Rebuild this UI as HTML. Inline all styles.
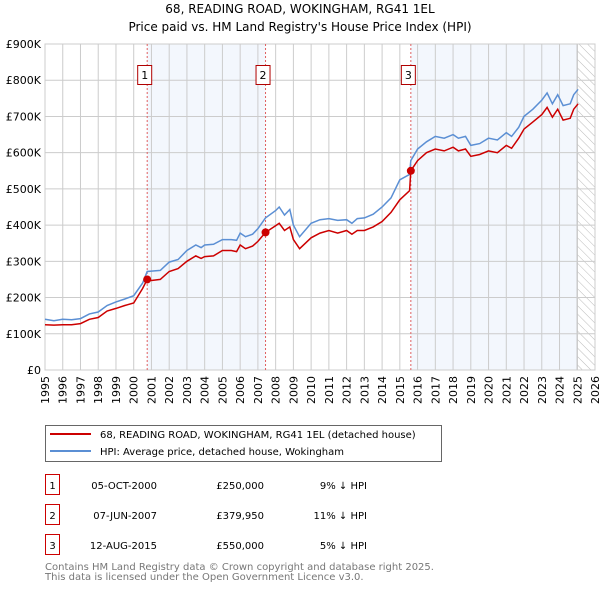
<!DOCTYPE html>
<html><head><meta charset="utf-8"><style>
body{margin:0;background:#fff;font-family:"DejaVu Sans","Liberation Sans",sans-serif;}
svg text{font-family:"DejaVu Sans","Liberation Sans",sans-serif;}
</style></head><body>
<svg id="c" width="600" height="590" xmlns="http://www.w3.org/2000/svg">
<defs><pattern id="hatch" width="6" height="6" patternUnits="userSpaceOnUse" patternTransform="rotate(-45)"><line x1="0" y1="0" x2="0" y2="6" stroke="#bbb" stroke-width="1"/></pattern></defs>
<text x="300" y="13" text-anchor="middle" font-size="12" fill="#000">68, READING ROAD, WOKINGHAM, RG41 1EL</text>
<text x="300" y="31" text-anchor="middle" font-size="12" fill="#000">Price paid vs. HM Land Registry's House Price Index (HPI)</text>
<g id="plot"></g>
<g>
<rect x="45.5" y="425.5" width="396" height="36" fill="#fff" stroke="#666"/>
<line x1="50" y1="434" x2="91" y2="434" stroke="#cc0000" stroke-width="2"/>
<text x="100" y="438" font-size="10">68, READING ROAD, WOKINGHAM, RG41 1EL (detached house)</text>
<line x1="50" y1="451" x2="91" y2="451" stroke="#5b8fd4" stroke-width="2"/>
<text x="100" y="455" font-size="10">HPI: Average price, detached house, Wokingham</text>
</g>
<g id="tbl" font-size="10"></g>
<text x="45" y="570" font-size="10" fill="#777">Contains HM Land Registry data © Crown copyright and database right 2025.</text>
<text x="45" y="580" font-size="10" fill="#777">This data is licensed under the Open Government Licence v3.0.</text>
</svg>
<script>
const dates=[1995,1995.5,1996,1996.5,1997,1997.5,1998,1998.5,1999,1999.5,2000,2000.5,2000.76,2001,2001.5,2002,2002.5,2003,2003.5,2003.8,2004,2004.5,2005,2005.5,2005.8,2006,2006.3,2006.7,2007,2007.43,2008,2008.2,2008.5,2008.8,2009,2009.35,2010,2010.5,2011,2011.5,2012,2012.3,2012.6,2013,2013.5,2014,2014.5,2015,2015.55,2015.62,2016,2016.5,2017,2017.5,2018,2018.3,2018.7,2019,2019.5,2020,2020.5,2021,2021.3,2021.7,2022,2022.5,2023,2023.3,2023.6,2023.9,2024.2,2024.6,2024.8,2025.05];
const hpi=[140,136,140,139,142,155,160,178,188,196,205,240,272,273,275,298,305,330,345,338,345,347,360,360,358,378,368,375,390,420,440,450,428,443,400,368,405,415,418,413,415,405,418,420,430,450,475,525,540,578,610,630,645,640,650,640,645,620,625,640,635,655,645,670,700,720,745,765,735,760,730,735,760,775];
const price=[125,124,125,125,128,140,145,163,170,178,185,225,250,247,250,272,280,300,315,308,313,315,330,330,327,345,335,342,355,380,398,405,385,395,360,335,365,378,385,378,385,375,385,385,395,410,435,470,495,550,578,600,610,605,615,605,610,590,595,605,600,620,612,640,665,685,705,725,698,720,690,695,720,735];
const yTicks=[0,100,200,300,400,500,600,700,800,900];
const yLabels=["£0","£100K","£200K","£300K","£400K","£500K","£600K","£700K","£800K","£900K"];
const xYears=[1995,1996,1997,1998,1999,2000,2001,2002,2003,2004,2005,2006,2007,2008,2009,2010,2011,2012,2013,2014,2015,2016,2017,2018,2019,2020,2021,2022,2023,2024,2025,2026];
const saleDates=[2000.76,2007.43,2015.62];
const salePrices=[250,379.95,550];
const saleLabels=["05-OCT-2000","07-JUN-2007","12-AUG-2015"];
const salePriceText=["£250,000","£379,950","£550,000"];
const saleHpiText=["9% ↓ HPI","11% ↓ HPI","5% ↓ HPI"];
const dataEnd=2025.0;

const L=45,R=595,T=44,B=370;
const X=v=>L+(v-1995)/(2026-1995)*(R-L);
const Y=v=>B-v/900*(B-T);
const NS="http://www.w3.org/2000/svg";
const plot=document.getElementById('plot');
function mk(tag,attrs,parent){const e=document.createElementNS(NS,tag);for(const k in attrs)e.setAttribute(k,attrs[k]);(parent||plot).appendChild(e);return e;}

let s1=mk('rect',{x:X(saleDates[0]),y:T,width:X(saleDates[1])-X(saleDates[0]),height:B-T,fill:'#eef3fc',opacity:0.7});


let s2=mk('rect',{x:X(saleDates[2]),y:T,width:X(dataEnd)-X(saleDates[2]),height:B-T,fill:'#eef3fc',opacity:0.7});


let hz=mk('rect',{x:X(dataEnd),y:T,width:R-X(dataEnd),height:B-T,fill:'url(#hatch)'});


mk('line',{x1:X(dataEnd),y1:T,x2:X(dataEnd),y2:B,stroke:'#999','stroke-width':1});

yTicks.forEach((t,i)=>{
  mk('line',{x1:L,y1:Y(t),x2:R,y2:Y(t),stroke:'#ccc','stroke-width':1});
  const tx=mk('text',{x:L-4,y:Y(t)+4,'text-anchor':'end','font-size':11});
  tx.textContent=yLabels[i];
  
  
});
xYears.forEach(yr=>{
  mk('line',{x1:X(yr),y1:T,x2:X(yr),y2:B,stroke:'#ccc','stroke-width':1});
  const tx=mk('text',{x:0,y:0,'font-size':11,'text-anchor':'end',transform:`translate(${X(yr)+4},${B+6}) rotate(-90)`});
  tx.textContent=yr;
  
  
});
mk('rect',{x:L,y:T,width:R-L,height:B-T,fill:'none',stroke:'#ccc'});

saleDates.forEach((d,i)=>{
  const ln=mk('line',{x1:X(d),y1:T,x2:X(d),y2:B,stroke:'#e06060','stroke-width':1,'stroke-dasharray':'2,2'});
  
  
  const bx=mk('rect',{x:X(d)-9.5,y:65.5,width:14,height:19,fill:'#fff',stroke:'#b00000'});
  
  
  const t=mk('text',{x:X(d)-2.5,y:79,'text-anchor':'middle','font-size':11});
  t.textContent=String(i+1);
});

const pts=a=>a.map((v,i)=>X(dates[i]).toFixed(1)+','+Y(v).toFixed(1)).join(' ');
let hl=mk('polyline',{points:pts(hpi),fill:'none',stroke:'#5b8fd4','stroke-width':1.5});


let pl=mk('polyline',{points:pts(price),fill:'none',stroke:'#cc0000','stroke-width':1.5});


saleDates.forEach((d,i)=>{
  const c=mk('circle',{cx:X(d),cy:Y(salePrices[i]),r:4,fill:'#cc0000'});
  
  
});

const tbl=document.getElementById('tbl');
saleDates.forEach((d,i)=>{
  const y=489+i*30;
  const g=mk('g',{},tbl);
  
  
  mk('rect',{x:45.5,y:y-14.5,width:14,height:20,fill:'#fff',stroke:'#cc0000'},g);
  const a=mk('text',{x:52.5,y:y,'text-anchor':'middle','font-size':10},g);a.textContent=String(i+1);
  const b=mk('text',{x:157,y:y,'text-anchor':'end','font-size':10},g);b.textContent=saleLabels[i];
  const c=mk('text',{x:264,y:y,'text-anchor':'end','font-size':10},g);c.textContent=salePriceText[i];
  const e=mk('text',{x:367,y:y,'text-anchor':'end','font-size':10},g);e.textContent=saleHpiText[i];
});
</script>
</body></html>
